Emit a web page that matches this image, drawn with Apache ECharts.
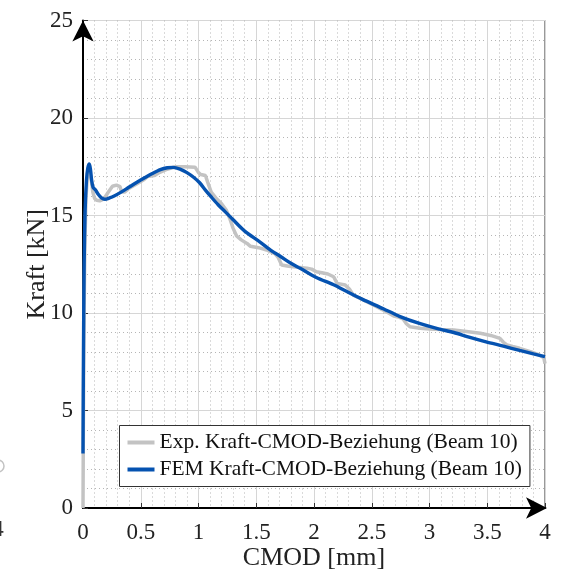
<!DOCTYPE html>
<html>
<head>
<meta charset="utf-8">
<script src="https://cdn.jsdelivr.net/npm/echarts@6/dist/echarts.min.js"></script>
<style>
  html, body { margin: 0; padding: 0; background: #ffffff; }
  #chart { width: 567px; height: 577px; }
</style>
</head>
<body>
<div id="chart"></div>
<script>
// Force vs. crack mouth opening displacement, beam 10
const seriesNames = [
  'Exp. Kraft-CMOD-Beziehung (Beam 10)',
  'FEM Kraft-CMOD-Beziehung (Beam 10)'
];

// Measured curve: [CMOD in mm, force in kN]
const expCurve = [
  [0.000, 0.0], [0.003, 4.0], [0.008, 9.0], [0.015, 13.0], [0.025, 15.8],
  [0.038, 17.1], [0.050, 17.5], [0.062, 17.4], [0.072, 16.8], [0.085, 16.2],
  [0.100, 15.88], [0.120, 15.78], [0.145, 15.75], [0.180, 15.85], [0.220, 16.2],
  [0.255, 16.5], [0.290, 16.56], [0.320, 16.48], [0.335, 16.2], [0.360, 16.2],
  [0.400, 16.4], [0.460, 16.6], [0.530, 16.85], [0.560, 17.0], [0.620, 17.05],
  [0.660, 17.2], [0.720, 17.35], [0.800, 17.5], [0.880, 17.5], [0.970, 17.48],
  [1.000, 17.2], [1.020, 17.1], [1.060, 17.05], [1.080, 16.7], [1.110, 16.2],
  [1.150, 15.9], [1.200, 15.6], [1.240, 15.28], [1.270, 14.86], [1.300, 14.34],
  [1.330, 13.95], [1.370, 13.75], [1.420, 13.57], [1.450, 13.42], [1.520, 13.35],
  [1.590, 13.23], [1.660, 13.05], [1.690, 12.85], [1.720, 12.46], [1.780, 12.4],
  [1.860, 12.35], [1.940, 12.29], [1.980, 12.25], [2.020, 12.12], [2.080, 12.05],
  [2.120, 12.0], [2.170, 11.86], [2.200, 11.52], [2.270, 11.44], [2.310, 11.2],
  [2.340, 10.92], [2.400, 10.75], [2.500, 10.45], [2.600, 10.15], [2.690, 9.85],
  [2.740, 9.78], [2.770, 9.7], [2.800, 9.45], [2.830, 9.3], [2.920, 9.22],
  [3.000, 9.18], [3.090, 9.15], [3.210, 9.13], [3.320, 9.05], [3.440, 8.96],
  [3.530, 8.85], [3.610, 8.7], [3.640, 8.5], [3.670, 8.36], [3.720, 8.28],
  [3.780, 8.19], [3.880, 8.0], [3.950, 7.85], [3.990, 7.7], [4.000, 7.4]
];

// Simulated curve: [CMOD in mm, force in kN]
const femCurve = [
  [0.000, 2.8], [0.004, 8.0], [0.010, 12.5], [0.018, 15.2], [0.030, 16.8],
  [0.042, 17.45], [0.055, 17.65], [0.065, 17.35], [0.075, 16.8], [0.087, 16.45],
  [0.110, 16.3], [0.130, 16.1], [0.160, 15.9], [0.190, 15.83], [0.230, 15.9],
  [0.270, 16.0], [0.330, 16.2], [0.390, 16.42], [0.460, 16.68], [0.530, 16.92],
  [0.600, 17.15], [0.670, 17.35], [0.730, 17.45], [0.780, 17.47], [0.840, 17.38],
  [0.900, 17.2], [0.960, 16.95], [1.010, 16.68], [1.060, 16.3], [1.110, 15.95],
  [1.170, 15.55], [1.230, 15.2], [1.300, 14.78], [1.400, 14.2], [1.530, 13.65],
  [1.630, 13.2], [1.710, 12.9], [1.800, 12.55], [1.880, 12.29], [2.020, 11.82],
  [2.170, 11.45], [2.300, 11.05], [2.420, 10.7], [2.600, 10.22], [2.740, 9.83],
  [2.920, 9.45], [3.090, 9.17], [3.210, 9.0], [3.350, 8.75], [3.490, 8.52],
  [3.640, 8.3], [3.780, 8.08], [3.900, 7.9], [4.000, 7.76]
];

const xTicks = { min: 0, max: 4, step: 0.5 };
const yTicks = { min: 0, max: 25, step: 5 };

const serif = "'Liberation Serif', 'Times New Roman', serif";
const chart = echarts.init(document.getElementById('chart'), null, { renderer: 'canvas' });

const axisCommon = {
  type: 'value',
  axisLine: {
    show: true,
    lineStyle: { color: '#000', width: 2 },
    symbol: ['none', 'arrow'],
    symbolSize: [16, 21]
  },
  axisTick: { show: true, inside: true, length: 5, lineStyle: { color: '#333', width: 1 } },
  axisLabel: { fontFamily: serif, fontSize: 23, color: '#222' },
  splitLine: { show: true, lineStyle: { color: '#d6d6d6', width: 1 } },
  minorTick: { show: false, splitNumber: 5 },
  minorSplitLine: { show: true, lineStyle: { color: '#b5b5b5', width: 1, type: [1, 3] } },
  nameLocation: 'middle',
  nameMoveOverlap: false,
  nameTextStyle: { fontFamily: serif, fontSize: 26, color: '#222' }
};

// thin horizontal bar used as the legend line sample
const lineIcon = 'path://M0,0h27v4h-27z';

chart.setOption({
  animation: false,
  grid: {
    left: 83, right: 22, top: 20.5, bottom: 69,
    show: true, borderColor: '#333', borderWidth: 1, backgroundColor: 'transparent'
  },
  xAxis: Object.assign({}, axisCommon, {
    min: xTicks.min, max: xTicks.max, interval: xTicks.step,
    name: 'CMOD [mm]', nameGap: 37,
    axisLine: Object.assign({}, axisCommon.axisLine, { symbolOffset: [0, 2] }),
    axisLabel: Object.assign({}, axisCommon.axisLabel, { margin: 13 })
  }),
  yAxis: Object.assign({}, axisCommon, {
    min: yTicks.min, max: yTicks.max, interval: yTicks.step,
    name: 'Kraft [kN]', nameGap: 33, nameRotate: 90,
    axisLine: Object.assign({}, axisCommon.axisLine, { symbolOffset: [0, 0] }),
    axisLabel: Object.assign({}, axisCommon.axisLabel, { margin: 10 })
  }),
  legend: {
    orient: 'vertical',
    left: 119.5, top: 425.5,
    padding: [6, 8, 6, 8],
    itemGap: 5,
    itemWidth: 27, itemHeight: 22,
    icon: lineIcon,
    backgroundColor: '#fff',
    borderColor: '#333', borderWidth: 1, borderRadius: 0,
    textStyle: { fontFamily: serif, fontSize: 21.5, color: '#111', lineHeight: 22 },
    data: seriesNames
  },
  series: [
    {
      name: seriesNames[0], type: 'line', data: expCurve,
      showSymbol: false, symbol: 'none', z: 2,
      lineStyle: { color: '#c3c3c3', width: 3.5 },
      itemStyle: { color: '#c3c3c3' }
    },
    {
      name: seriesNames[1], type: 'line', data: femCurve,
      showSymbol: false, symbol: 'none', smooth: 0.3, z: 3,
      lineStyle: { color: '#0552b0', width: 3.4 },
      itemStyle: { color: '#0552b0' }
    }
  ],
  graphic: [
    { type: 'circle', shape: { cx: -2, cy: 466, r: 6 }, style: { fill: 'none', stroke: '#c3c3c3', lineWidth: 1.5 } },
    { type: 'text', x: -2, y: 530, style: { text: '4', fontFamily: serif, fontSize: 23, fill: '#333', align: 'center', verticalAlign: 'middle' } }
  ]
});
</script>
</body>
</html>
